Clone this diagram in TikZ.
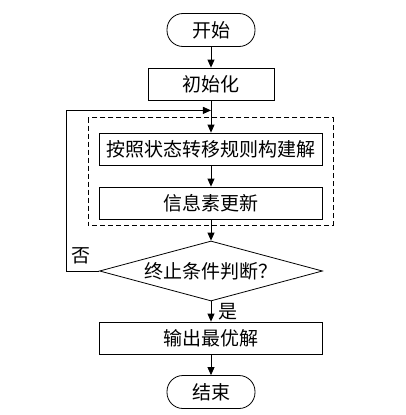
\documentclass[tikz,border=0pt]{standalone}
\usepackage{fontspec}
\setmainfont{Noto Sans CJK SC}
\usetikzlibrary{shapes.geometric, positioning, arrows.meta, calc}

\begin{document}
\begin{tikzpicture}[node distance=54pt, on grid, >={Triangle[length=8pt,width=7pt]}, line width=0.8pt,
  term/.style={draw, rounded corners=16pt, minimum width=88pt, minimum height=33pt},
  proc/.style={draw, minimum width=223pt, minimum height=32pt},
  decide/.style={draw, diamond, aspect=3.7, minimum width=223pt, minimum height=60pt, inner sep=0pt},
  every node/.append style={font=\fontsize{19}{21}\selectfont}]

\useasboundingbox (-211pt,30pt) rectangle (194pt,-385pt);

% Define the steps
\node[term] (start) {开始};
\node[proc, minimum width=126pt] (init) [below=of start] {初始化};
\node[proc] (build) [below=65pt of init] {按照状态转移规则构建解};
\node[proc] (update) [below=of build] {信息素更新};
\node[decide] (check) [below=68pt of update] {终止条件判断？};
\node[proc] (output) [below=67pt of check] {输出最优解};
\node[term] (stop) [below=of output] {结束};

% Loop body
\draw[dash pattern=on 5pt off 3pt] ($(build.north west)+(-11pt,15pt)$) rectangle ($(update.south east)+(10pt,-6pt)$);
\coordinate (join) at ($(init.south)+(0,-10pt)$);

% Flow
\draw[->] (start) -- (init);
\draw[->] (init) -- (build);
\draw[->] (build) -- (update);
\draw[->] (update) -- (check);
\draw[->] (check) -- node[right=4pt] {是} (output);
\draw[->] (output) -- (stop);
\draw[->] (check.west) -- ++(-33pt,0) |- (join);
\node (no) at ($(check.west)+(-18pt,15pt)$) {否};

\end{tikzpicture}
\end{document}
